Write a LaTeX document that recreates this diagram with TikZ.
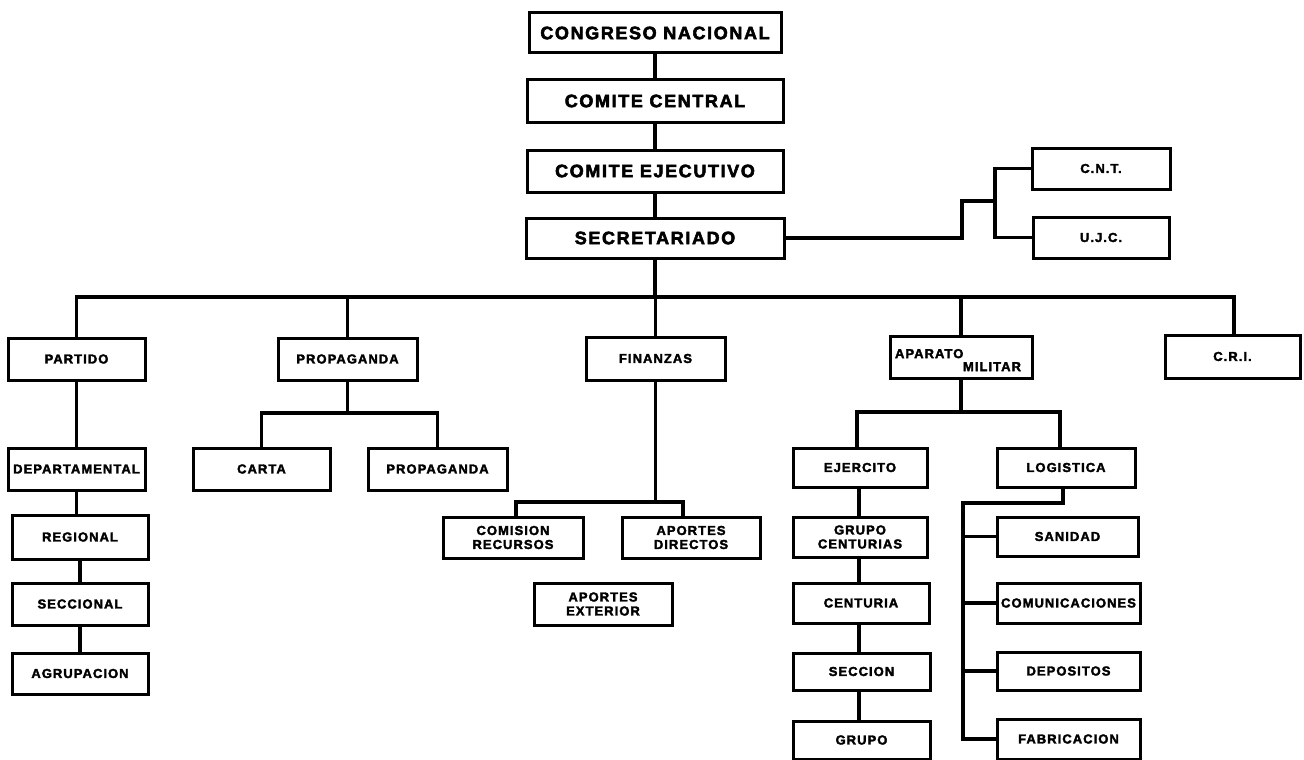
\documentclass[tikz,border=0pt]{standalone}
\usepackage{fontspec}
\setmainfont{Liberation Sans}
\newfontfamily\bigfam{Liberation Sans}[LetterSpace=9, BoldFeatures={FakeBold=3}]
\newfontfamily\smfam{Liberation Sans}[LetterSpace=8, BoldFeatures={FakeBold=2.5}]
\begin{document}
\begin{tikzpicture}[x=1pt,y=-1pt,
  box/.style={draw, line width=3pt, inner sep=0pt, align=center,
    font=\smfam\bfseries\fontsize{13}{14}\selectfont},
  bigbox/.style={box, font=\bigfam\bfseries\fontsize{18}{20}\selectfont},
  conn/.style={line width=3.2pt, line cap=rect, line join=miter}]
\useasboundingbox (0,0) rectangle (1304,760);
% top chain
\node[bigbox, minimum width=252pt, minimum height=40pt] (cn) at (655,33) {CONGRESO NACIONAL};
\node[bigbox, minimum width=256pt, minimum height=42pt] (cc) at (655,101) {COMITE CENTRAL};
\node[bigbox, minimum width=256pt, minimum height=42pt] (ce) at (655,171) {COMITE EJECUTIVO};
\node[bigbox, minimum width=258pt, minimum height=40pt] (se) at (655,238) {SECRETARIADO};
\node[box, minimum width=138pt, minimum height=41pt] (cnt) at (1101,168.5) {C.N.T.};
\node[box, minimum width=136pt, minimum height=41pt] (ujc) at (1101,237.5) {U.J.C.};
% second level
\node[box, minimum width=137pt, minimum height=42pt] (par) at (76.5,359) {PARTIDO};
\node[box, minimum width=139pt, minimum height=42pt] (pro) at (347.5,359) {PROPAGANDA};
\node[box, minimum width=139pt, minimum height=43pt] (fin) at (655.5,358.5) {FINANZAS};
\node[box, minimum width=142pt, minimum height=42pt,
  font=\smfam\bfseries\fontsize{13}{13}\selectfont] (apm) at (961,357)
  {\hspace*{-6pt}\raisebox{-8pt}[0pt][0pt]{\begin{tabular}{@{}l@{}}APARATO\\\hspace*{68pt}MILITAR\end{tabular}}};
\node[box, minimum width=135pt, minimum height=43pt] (cri) at (1232.5,356.5) {C.R.I.};
% partido
\node[box, minimum width=137pt, minimum height=42pt] (dep) at (76.5,469) {DEPARTAMENTAL};
\node[box, minimum width=136pt, minimum height=44pt] (reg) at (80,537) {REGIONAL};
\node[box, minimum width=136pt, minimum height=42pt] (sec) at (80,604) {SECCIONAL};
\node[box, minimum width=136pt, minimum height=41pt] (agr) at (80,673.5) {AGRUPACION};
% propaganda
\node[box, minimum width=137pt, minimum height=42pt] (car) at (261.5,469) {CARTA};
\node[box, minimum width=139pt, minimum height=42pt] (pr2) at (437.5,469) {PROPAGANDA};
% finanzas
\node[box, minimum width=140pt, minimum height=41pt] (com) at (513,537.5) {COMISION\\RECURSOS};
\node[box, minimum width=138pt, minimum height=41pt] (apd) at (691,537.5) {APORTES\\DIRECTOS};
\node[box, minimum width=138pt, minimum height=42pt] (ape) at (603,604) {APORTES\\EXTERIOR};
% aparato militar
\node[box, minimum width=134pt, minimum height=39pt] (eje) at (860,467.5) {EJERCITO};
\node[box, minimum width=138pt, minimum height=39pt] (log) at (1066,467.5) {LOGISTICA};
\node[box, minimum width=134pt, minimum height=40pt] (gc) at (860,537) {GRUPO\\CENTURIAS};
\node[box, minimum width=136pt, minimum height=40pt] (cen) at (861,603) {CENTURIA};
\node[box, minimum width=137pt, minimum height=37pt] (scc) at (861.5,671.5) {SECCION};
\node[box, minimum width=137pt, minimum height=38pt] (gru) at (861.5,740) {GRUPO};
\node[box, minimum width=141pt, minimum height=39pt] (san) at (1067.5,536.5) {SANIDAD};
\node[box, minimum width=143pt, minimum height=40pt] (cmn) at (1068.5,603) {COMUNICACIONES};
\node[box, minimum width=143pt, minimum height=38pt] (dps) at (1068.5,671) {DEPOSITOS};
\node[box, minimum width=143pt, minimum height=40pt] (fab) at (1068.5,739) {FABRICACION};
% helper coordinates
\coordinate (busL) at (76.5,297);
\coordinate (busR) at (1234,297);
\coordinate (k2) at (962,201);
\coordinate (k3) at (995,201);
\coordinate (pb) at (347.5,413);
\coordinate (fb) at (655.5,502);
\coordinate (fl) at (516,502);
\coordinate (fr) at (683,502);
\coordinate (ab) at (961,412);
\coordinate (el) at (857,412);
\coordinate (er) at (1060,412);
\coordinate (lg1) at (1063,503);
\coordinate (lg2) at (963,503);
% connectors: top chain
\draw[conn] (cn.south) -- (cc.north);
\draw[conn] (cc.south) -- (ce.north);
\draw[conn] (ce.south) -- (se.north);
\draw[conn] (se.east) -| (k2) -- (k3);
\draw[conn] (cnt.west) -| (k3) |- (ujc.west);
% main bus
\draw[conn] (se.south) -- (se.south |- busL);
\draw[conn] (busL) -- (busR);
\draw[conn] (busL) -- (par.north);
\draw[conn] (pro.north |- busL) -- (pro.north);
\draw[conn] (fin.north |- busL) -- (fin.north);
\draw[conn] (apm.north |- busL) -- (apm.north);
\draw[conn] (busR) -- (busR |- cri.north);
% partido chain
\draw[conn] (par.south) -- (par.south |- dep.north);
\draw[conn] (dep.south) -- (dep.south |- reg.north);
\draw[conn] (reg.south) -- (reg.south |- sec.north);
\draw[conn] (sec.south) -- (sec.south |- agr.north);
% propaganda
\draw[conn] (pro.south) -- (pb);
\draw[conn] (car.north) |- (pb) -| (pr2.north);
% finanzas
\draw[conn] (fin.south) -- (fb);
\draw[conn] (fl |- com.north) -- (fl) -- (fr) -- (fr |- apd.north);
% aparato militar
\draw[conn] (apm.south) -- (ab);
\draw[conn] (el |- eje.north) -- (el) -- (er) -- (er |- log.north);
% ejercito chain
\draw[conn] (eje.south -| el) ++(2,0) coordinate (ej) -- (ej |- gc.north);
\draw[conn] (ej |- gc.south) -- (ej |- cen.north);
\draw[conn] (ej |- cen.south) -- (ej |- scc.north);
\draw[conn] (ej |- scc.south) -- (ej |- gru.north);
% logistica
\draw[conn] (log.south -| lg1) -- (lg1) -- (lg2) -- (lg2 |- fab.west) -- (fab.west);
\draw[conn] (lg2 |- san.west) -- (san.west);
\draw[conn] (lg2 |- cmn.west) -- (cmn.west);
\draw[conn] (lg2 |- dps.west) -- (dps.west);
\end{tikzpicture}
\end{document}
